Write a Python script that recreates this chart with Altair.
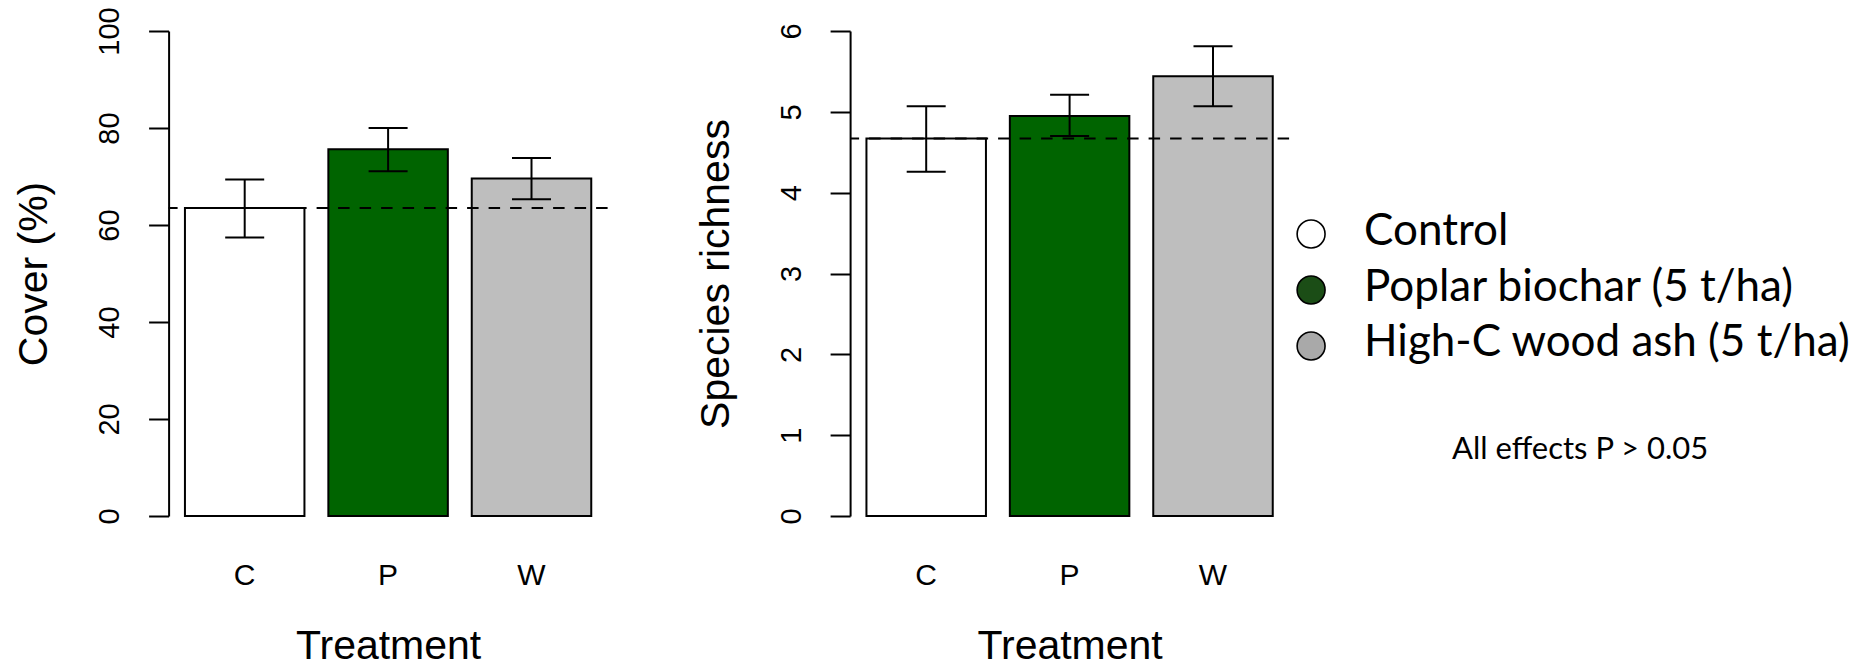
import altair as alt
import pandas as pd

# Treatment codes and bar fills
treatments = ["C", "P", "W"]
bar_fills = ["#FFFFFF", "#006400", "#BEBEBE"]

# Vegetation cover (%): mean with lower / upper error limits
cover_mean = [63.5, 75.6, 69.6]
cover_lower = [57.4, 71.1, 65.3]
cover_upper = [69.4, 80.0, 73.8]
cover_ticks = [0, 20, 40, 60, 80, 100]

# Species richness: mean with lower / upper error limits
richness_mean = [4.67, 4.95, 5.44]
richness_lower = [4.26, 4.70, 5.07]
richness_upper = [5.07, 5.21, 5.81]
richness_ticks = [0, 1, 2, 3, 4, 5, 6]

# Key entries and note
legend_labels = ["Control", "Poplar biochar (5 t/ha)", "High-C wood ash (5 t/ha)"]
legend_fills = ["#FFFFFF", "#1B4D16", "#A9A9A9"]
note_text = ["All effects P > 0.05"]

PANEL_W = 439
PANEL_H = 485
AXIS_FONT = "Liberation Sans"
KEY_FONT = "Lato"


def bar_panel(mean, lower, upper, y_title, y_max, ticks):
    df = pd.DataFrame({"treatment": treatments, "mean": mean,
                       "lower": lower, "upper": upper})
    ref = pd.DataFrame({"ref": [mean[0]]})

    x_axis = alt.Axis(title="Treatment", labelAngle=0, domain=False, ticks=False,
                      tickSize=0, labelPadding=69, labelBaseline="alphabetic",
                      labelFontSize=30, titleFontSize=41, titleBaseline="alphabetic",
                      titleX=PANEL_W / 2, titleY=143, titleAlign="center")
    x_scale = alt.Scale(domain=treatments, paddingInner=1 / 6, paddingOuter=0.114)

    y_axis = alt.Axis(title=y_title, values=ticks, grid=False, labelAngle=270,
                      labelAlign="center", labelBaseline="alphabetic",
                      labelPadding=29.7, labelFlush=False, labelOverlap=False,
                      labelFontSize=29, tickSize=20, tickWidth=2, domainWidth=2,
                      titleFontSize=41, titleAngle=270, titleBaseline="alphabetic",
                      titleAlign="center", titleX=-122, titleY=PANEL_H / 2)
    y_scale = alt.Scale(domain=[0, y_max], nice=False, zero=True)

    def X():
        return alt.X("treatment:N", scale=x_scale, axis=x_axis, sort=treatments)

    def Y(field):
        return alt.Y(f"{field}:Q", scale=y_scale, axis=y_axis)

    base = alt.Chart(df)
    bars = base.mark_bar(stroke="black", strokeWidth=2).encode(
        x=X(), y=Y("mean"),
        color=alt.Color("treatment:N", scale=alt.Scale(domain=treatments, range=bar_fills),
                        legend=None),
    )
    control_line = alt.Chart(ref).mark_rule(
        color="black", strokeWidth=2, strokeDash=[11.5, 10]
    ).encode(y=Y("ref"))
    whisker = base.mark_rule(color="black", strokeWidth=2).encode(
        x=X(), y=Y("lower"), y2="upper:Q")
    cap_low = base.mark_tick(color="black", size=39, thickness=2, opacity=1).encode(
        x=X(), y=Y("lower"))
    cap_high = base.mark_tick(color="black", size=39, thickness=2, opacity=1).encode(
        x=X(), y=Y("upper"))

    return alt.layer(bars, control_line, whisker, cap_low, cap_high).properties(
        width=PANEL_W, height=PANEL_H)


cover_panel = bar_panel(cover_mean, cover_lower, cover_upper, "Cover (%)", 100, cover_ticks)
richness_panel = bar_panel(richness_mean, richness_lower, richness_upper,
                           "Species richness", 6, richness_ticks)

# Key drawn beside the richness panel
key_df = pd.DataFrame({"label": legend_labels, "fill": legend_fills})
key_y = alt.Y("label:N", sort=legend_labels,
              scale=alt.Scale(type="point", domain=legend_labels, range=[203, 315], padding=0),
              axis=None)
key_dots = alt.Chart(key_df).mark_point(
    shape="circle", filled=True, size=780, stroke="black", strokeWidth=1.6, opacity=1
).encode(x=alt.value(461), y=key_y, fill=alt.Fill("fill:N", scale=None))
key_text = alt.Chart(key_df).mark_text(
    align="left", baseline="alphabetic", dy=10.5, font=KEY_FONT, fontSize=44, color="black"
).encode(x=alt.value(514), y=key_y, text="label:N")
note = alt.Chart(pd.DataFrame({"note": note_text})).mark_text(
    align="center", baseline="alphabetic", font=KEY_FONT, fontSize=31, color="black"
).encode(x=alt.value(730), y=alt.value(428), text="note:N")

key_layer = alt.layer(key_dots, key_text, note)
right = alt.layer(richness_panel, key_layer).resolve_scale(y="independent")

chart = alt.hconcat(cover_panel, right, spacing=242.5, bounds="flush").properties(
    padding={"left": 13.6, "top": 6, "right": 0, "bottom": 20},
    background="white",
).configure_view(stroke=None).configure_axis(
    labelFont=AXIS_FONT, titleFont=AXIS_FONT, labelColor="black", titleColor="black",
    tickColor="black", domainColor="black", titleFontWeight="normal",
)

chart.save("out.html", embed_options={"renderer": "svg", "actions": False})
